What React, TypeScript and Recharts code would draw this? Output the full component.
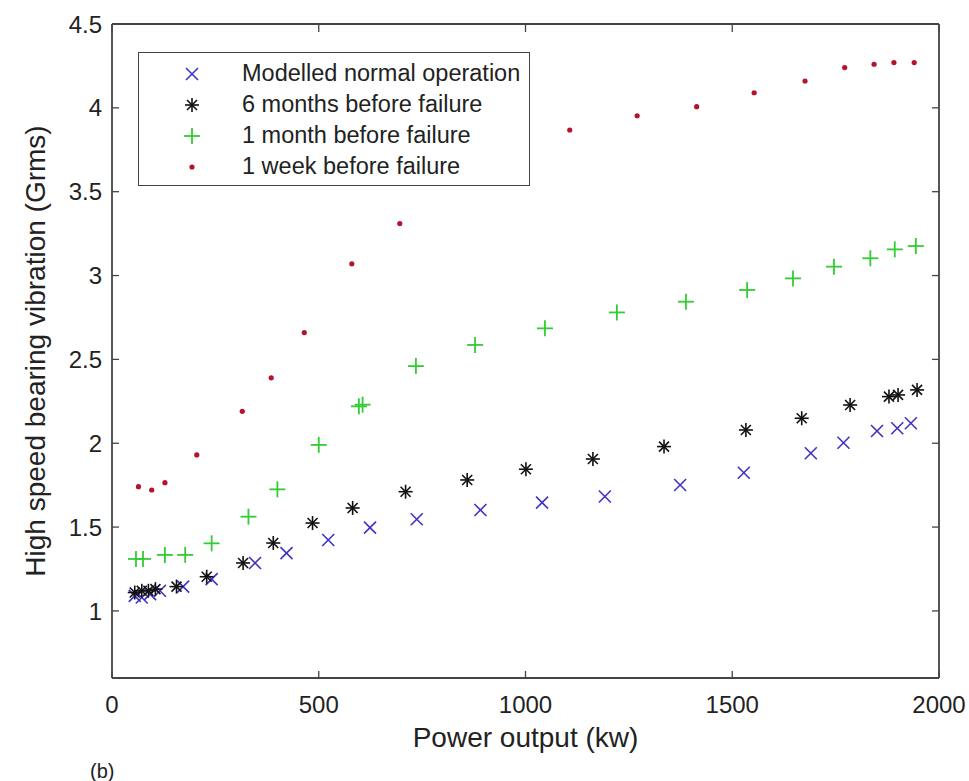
import React from 'react'
import { ScatterChart, Scatter, XAxis, YAxis, Legend, Label } from 'recharts'

// power output (kW) and high speed bearing vibration (Grms)
const normalKw = [55, 72, 92, 116, 172, 241, 346, 422, 523, 624, 737, 891, 1040, 1192, 1374, 1528, 1690, 1769, 1850, 1899, 1932]
const normalG = [1.09, 1.08, 1.10, 1.12, 1.145, 1.19, 1.286, 1.345, 1.423, 1.497, 1.547, 1.602, 1.646, 1.682, 1.751, 1.824, 1.94, 2.003, 2.073, 2.089, 2.119]

const sixMonthKw = [55, 72, 88, 105, 156, 229, 317, 390, 485, 582, 710, 859, 1001, 1163, 1335, 1533, 1668, 1785, 1879, 1901, 1947]
const sixMonthG = [1.11, 1.12, 1.12, 1.13, 1.145, 1.204, 1.286, 1.405, 1.524, 1.614, 1.711, 1.781, 1.845, 1.906, 1.98, 2.079, 2.149, 2.228, 2.278, 2.288, 2.318]

const oneMonthKw = [58, 75, 128, 177, 241, 330, 400, 500, 597, 606, 735, 878, 1047, 1221, 1388, 1536, 1647, 1746, 1834, 1893, 1944]
const oneMonthG = [1.31, 1.31, 1.334, 1.334, 1.403, 1.562, 1.725, 1.99, 2.22, 2.23, 2.46, 2.586, 2.685, 2.78, 2.844, 2.914, 2.983, 3.053, 3.103, 3.156, 3.176]

const oneWeekKw = [64, 96, 128, 205, 315, 385, 465, 580, 696, 1107, 1270, 1414, 1553, 1676, 1772, 1843, 1891, 1940]
const oneWeekG = [1.741, 1.721, 1.765, 1.93, 2.19, 2.39, 2.66, 3.07, 3.31, 3.868, 3.953, 4.007, 4.09, 4.16, 4.24, 4.26, 4.27, 4.27]

const xTicks = [0, 500, 1000, 1500, 2000]
const yTicks = [1, 1.5, 2, 2.5, 3, 3.5, 4, 4.5]

const BLUE = '#3f33c4'
const BLACK = '#111'
const GREEN = '#33cc33'
const RED = '#b5122e'
const AXIS = '#444'
const TEXT = '#222'
const FONT = '"Liberation Sans", Arial, Helvetica, sans-serif'

const toPoints = (xs: number[], ys: number[]) => xs.map((x, i) => ({ x, y: ys[i] }))

const CrossMark = ({ cx, cy }: any) => (
  <g stroke={BLUE} strokeWidth={1.6}>
    <line x1={cx - 6} y1={cy - 6} x2={cx + 6} y2={cy + 6} />
    <line x1={cx - 6} y1={cy + 6} x2={cx + 6} y2={cy - 6} />
  </g>
)

const StarMark = ({ cx, cy }: any) => (
  <g stroke={BLACK} strokeWidth={1.6}>
    <line x1={cx - 7} y1={cy} x2={cx + 7} y2={cy} />
    <line x1={cx} y1={cy - 7} x2={cx} y2={cy + 7} />
    <line x1={cx - 5} y1={cy - 5} x2={cx + 5} y2={cy + 5} />
    <line x1={cx - 5} y1={cy + 5} x2={cx + 5} y2={cy - 5} />
  </g>
)

const PlusMark = ({ cx, cy }: any) => (
  <g stroke={GREEN} strokeWidth={1.8}>
    <line x1={cx - 8} y1={cy} x2={cx + 8} y2={cy} />
    <line x1={cx} y1={cy - 8} x2={cx} y2={cy + 8} />
  </g>
)

const DotMark = ({ cx, cy }: any) => <circle cx={cx} cy={cy} r={2.6} fill={RED} />

const NoMark = () => null

const series = [
  { label: 'Modelled normal operation', data: toPoints(normalKw, normalG), shape: CrossMark },
  { label: '6 months before failure', data: toPoints(sixMonthKw, sixMonthG), shape: StarMark },
  { label: '1 month before failure', data: toPoints(oneMonthKw, oneMonthG), shape: PlusMark },
  { label: '1 week before failure', data: toPoints(oneWeekKw, oneWeekG), shape: DotMark },
]

const BottomTick = ({ x, y, payload }: any) => (
  <g>
    <line x1={x} x2={x} y1={y} y2={y - 7} stroke={AXIS} strokeWidth={1.3} />
    <text x={x} y={y + 35} textAnchor="middle" fontSize={24} fontFamily={FONT} fill={TEXT}>
      {payload.value}
    </text>
  </g>
)

const LeftTick = ({ x, y, payload }: any) => (
  <g>
    <line x1={x} x2={x + 7} y1={y} y2={y} stroke={AXIS} strokeWidth={1.3} />
    <text x={x - 10} y={y} dy="0.36em" textAnchor="end" fontSize={24} fontFamily={FONT} fill={TEXT}>
      {payload.value}
    </text>
  </g>
)

// top axis: tick y sits one pixel above the frame line (axis box height 1)
const TopTick = ({ x, y }: any) => (
  <line x1={x} x2={x} y1={y + 1} y2={y + 8} stroke={AXIS} strokeWidth={1.3} />
)

const RightTick = ({ x, y }: any) => (
  <line x1={x} x2={x - 7} y1={y} y2={y} stroke={AXIS} strokeWidth={1.3} />
)

const LegendBox = () => (
  <div
    style={{
      width: 392,
      height: 134,
      boxSizing: 'border-box',
      border: `1.5px solid ${AXIS}`,
      background: '#fff',
      paddingTop: 5,
      fontFamily: FONT,
      fontSize: 23.5,
      color: TEXT,
    }}
  >
    {series.map(s => {
      const Shape = s.shape
      return (
        <div key={s.label} style={{ display: 'flex', alignItems: 'center', height: 31 }}>
          <svg width={103} height={24} style={{ flexShrink: 0 }}>
            <Shape cx={53} cy={12} />
          </svg>
          <span style={{ whiteSpace: 'nowrap' }}>{s.label}</span>
        </div>
      )
    })}
  </div>
)

export default function App() {
  return (
    <div style={{ position: 'absolute', left: 0, top: 0, width: 969, height: 781, background: '#fff' }}>
      <ScatterChart width={969} height={781} margin={{ top: 23, right: 29, bottom: 0, left: 0 }}>
        <XAxis
          dataKey="x"
          type="number"
          domain={[0, 2000]}
          ticks={xTicks}
          allowDataOverflow
          height={103}
          tickSize={0}
          tickMargin={0}
          tick={<BottomTick />}
          axisLine={{ stroke: AXIS, strokeWidth: 1.8 }}
          tickLine={false}
        >
          <Label
            value="Power output (kw)"
            position="insideBottom"
            offset={34}
            style={{ fontSize: 28, fontFamily: FONT, fill: TEXT }}
          />
          <Label
            content={({ viewBox }: any) => (
              <text x={viewBox.x - 22} y={viewBox.y + 100} fontSize={20} fontFamily={FONT} fill={TEXT}>
                (b)
              </text>
            )}
          />
        </XAxis>
        <XAxis
          xAxisId="top"
          orientation="top"
          dataKey="x"
          type="number"
          domain={[0, 2000]}
          ticks={xTicks}
          allowDataOverflow
          height={1}
          tickSize={0}
          tickMargin={0}
          tick={<TopTick />}
          axisLine={{ stroke: AXIS, strokeWidth: 1.8 }}
          tickLine={false}
        />
        <YAxis
          dataKey="y"
          type="number"
          domain={[0.6, 4.5]}
          ticks={yTicks}
          allowDataOverflow
          width={112}
          tickSize={0}
          tickMargin={0}
          tick={<LeftTick />}
          axisLine={{ stroke: AXIS, strokeWidth: 1.8 }}
          tickLine={false}
        >
          <Label
            content={({ viewBox }: any) => (
              <text
                transform={`translate(${viewBox.x + 45}, ${viewBox.y + viewBox.height / 2}) rotate(-90)`}
                textAnchor="middle"
                fontSize={28}
                fontFamily={FONT}
                fill={TEXT}
              >
                High speed bearing vibration (Grms)
              </text>
            )}
          />
        </YAxis>
        <YAxis
          yAxisId="right"
          orientation="right"
          dataKey="y"
          type="number"
          domain={[0.6, 4.5]}
          ticks={yTicks}
          allowDataOverflow
          width={1}
          tickSize={0}
          tickMargin={0}
          tick={<RightTick />}
          axisLine={{ stroke: AXIS, strokeWidth: 1.8 }}
          tickLine={false}
        />
        <Legend
          layout="vertical"
          verticalAlign="middle"
          align="center"
          content={<LegendBox />}
          wrapperStyle={{ left: 138, top: 52, width: 392, height: 134 }}
        />
        {series.map(s => (
          <Scatter
            key={s.label}
            name={s.label}
            data={s.data}
            shape={s.shape}
            isAnimationActive={false}
          />
        ))}
        {/* invisible copy bound to the top/right axes so the box frame gets drawn */}
        <Scatter
          xAxisId="top"
          yAxisId="right"
          data={series[3].data}
          shape={NoMark}
          legendType="none"
          isAnimationActive={false}
        />
      </ScatterChart>
    </div>
  )
}
